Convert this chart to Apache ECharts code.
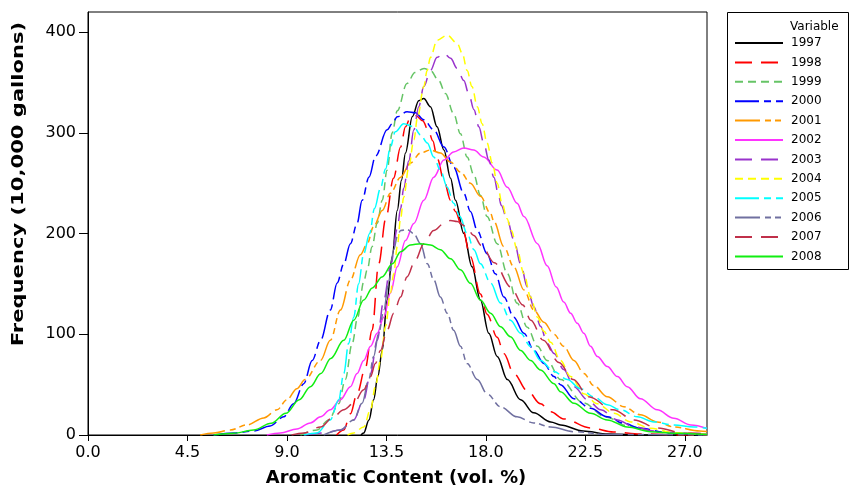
<!DOCTYPE html>
<html><head><meta charset="utf-8">
<script src="https://cdn.jsdelivr.net/npm/echarts@6/dist/echarts.min.js"></script>
<style>html,body{margin:0;padding:0;background:#fff}#c{width:851px;height:486px}</style>
</head><body><div id="c"></div>
<script>
const years = ['1997','1998','1999','2000','2001','2002','2003','2004','2005','2006','2007','2008'];
const xTicks = [0, 4.5, 9, 13.5, 18, 22.5, 27];
const yTicks = [0, 100, 200, 300, 400];

const x1997 = [12.35,12.47,12.71,12.92,13.11,13.31,13.53,13.76,13.99,14.18,14.36,14.67,14.96,15.19,15.49,15.79,16.1,16.4,16.62,17.0,17.37,17.75,18.13,18.51,18.97,19.57,20.16,20.93,21.38,22.4,23.51,25.44,28];
const y1997 = [0,2,15,35,58,84,134,177,223,253,280,316,332,334,326,306,283,255,233,200,167,134,101,78,55,35,22,13,10,4,1,0,0];

const x1998 = [11.24,11.57,11.87,12.17,12.55,12.85,13.15,13.47,13.82,14.14,14.36,14.58,14.84,15.14,15.4,15.6,15.79,16.11,16.4,16.62,16.93,17.3,17.75,18.05,18.51,18.81,19.26,19.87,20.47,20.93,21.52,22.73,23.77,24.98,27.06,28];
const y1998 = [0,5,21,41,67,104,170,215,255,286,306,315,317,312,302,292,275,252,233,222,206,177,140,120,97,81,61,44,31,23,16,7,3,1,0,0];

const x1999 = [9.61,10.36,10.89,11.34,11.64,11.95,12.2,12.47,12.63,12.85,13.08,13.31,13.53,13.76,13.99,14.43,14.79,15.2,15.49,15.86,16.17,16.54,16.85,17.15,17.46,17.75,18.05,18.51,18.97,19.41,19.87,20.33,20.77,21.38,22.4,23.41,24.43,25.44,26.45,28];
const y1999 = [0,5,15,31,55,91,117,152,164,187,210,233,263,300,322,349,360,364,362,352,339,319,299,276,258,238,217,190,160,131,107,88,74,55,32,18,9,4,1.5,0];

const x2000 = [5.68,6.59,7.49,8.24,8.85,9.3,9.76,10.14,10.52,10.96,11.27,11.57,11.87,12.17,12.4,12.71,13.01,13.53,13.76,13.99,14.43,14.81,15.19,15.64,16.1,16.54,17.0,17.3,17.61,18.05,18.43,18.81,19.26,19.72,20.17,20.62,21.08,21.37,21.98,22.73,23.49,24.24,24.99,26.21,27.67,28];
const y2000 = [0,2,4,9,18,31,51,74,94,124,151,170,190,210,233,256,277,303,309,316,321,320,313,303,286,266,240,222,203,180,160,137,117,101,84,71,58,50,36,26.5,18,11.6,6.6,2.3,0.5,0.4];

const x2001 = [5.08,5.68,6.44,7.19,7.95,8.55,9.0,9.45,9.82,10.52,10.96,11.42,11.87,12.32,12.63,12.92,13.31,13.68,14.14,14.58,15.04,15.49,15.94,16.4,16.85,17.3,17.75,18.21,18.36,18.81,19.26,19.72,20.17,20.62,21.08,21.52,21.98,22.43,22.88,23.49,24.24,24.99,25.75,26.5,27.67,28];
const y2001 = [0,2,5,10,17,25,35,46,55,74,94,124,154,179,190,207,223,240,256,270,280,283,280,271,261,250,237,220,212,187,167,144,124,112,100,88,74,61,49,38,28,20,13,8,4,3.5];

const x2002 = [8.09,8.7,9.45,10.06,10.52,10.96,11.42,11.87,12.17,12.47,12.78,13.08,13.38,13.68,13.99,14.36,14.74,15.19,15.64,16.1,16.54,17.0,17.45,17.9,18.51,18.97,19.41,19.72,20.33,20.77,21.18,21.52,21.83,22.13,22.43,22.73,23.04,23.49,23.95,24.39,24.99,25.75,26.5,27.27,28];
const y2002 = [0,2,6,12,18,25,35,48,61,74,88,101,117,141,167,193,210,233,256,273,281,285,283,276,263,246,230,217,190,168,147,132,121,111,101,88,78,68,58,48,36,25,16.6,10,6.6];

const x2003 = [9.8,10.66,11.42,12.02,12.47,12.78,13.08,13.38,13.68,13.99,14.14,14.28,14.51,14.74,14.96,15.19,15.49,15.79,16.1,16.4,16.7,17.0,17.22,17.46,17.68,17.9,18.13,18.36,18.58,18.69,18.97,19.26,19.57,19.87,20.17,20.47,20.77,21.08,21.52,21.98,22.59,23.19,23.95,24.7,25.6,26.81,28];
const y2003 = [0,2,5,15,35,61,94,134,167,205,225,245,272,303,326,346,362,375,379,374,364,352,339,323,306,290,273,256,237,228,213,194,170,147,127,108,91,81,65,48,35,25,15,8,4,2,1];

const x2004 = [11.74,12.02,12.47,12.78,13.0,13.23,13.46,13.68,13.83,13.99,14.14,14.28,14.51,14.74,14.91,15.19,15.34,15.49,15.79,16.25,16.7,16.93,17.15,17.37,17.61,17.83,18.05,18.29,18.51,18.73,18.95,19.15,19.41,19.72,20.02,20.33,20.62,20.93,21.37,21.83,22.43,23.04,23.79,24.55,25.45,26.51,28];
const y2004 = [0,2,8,25,48,74,108,141,160,187,215,236,266,293,316,346,362,375,392,397,389,379,362,346,326,309,290,270,250,230,215,203,184,160,137,117,103,92,74,58,41,31,21.5,13,6.6,2.3,0.5];

const x2005 = [9.76,10.36,10.96,11.34,11.57,11.79,12.02,12.24,12.47,12.74,12.96,13.23,13.46,13.68,13.9,14.28,14.74,15.04,15.35,15.64,15.94,16.25,16.54,16.82,17.15,17.46,17.75,18.21,18.66,19.11,19.57,20.02,20.47,21.08,21.68,22.28,22.88,23.49,24.09,24.85,25.6,26.5,27.41,28];
const y2005 = [0,2,15,35,61,91,117,150,180,200,225,245,264,286,301,309,306,298,290,276,263,246,230,217,200,184,170,151,131,114,101,88,74,63,55,46,38,30,25,18,13,10,8,6.6];

const x2006 = [10.66,11.42,12.02,12.4,12.7,12.92,13.15,13.38,13.6,13.83,13.99,14.14,14.44,14.74,15.04,15.35,15.64,15.94,16.25,16.54,16.85,17.15,17.61,18.05,18.66,19.41,20.16,20.93,21.98,23.49,28];
const y2006 = [0,5,15,31.5,55,78,101,124,151,184,197,203,204,200,190,170,154,137,121,104,88,71,55,41,28,18,12,8,3.3,0.5,0];

const x2007 = [9.21,9.76,10.52,11.1,11.57,12.02,12.47,12.78,13.0,13.23,13.53,13.83,14.14,14.43,14.81,15.19,15.64,16.1,16.4,16.7,17.1,17.45,17.8,18.38,19.12,19.67,20.03,20.6,21.3,21.95,22.65,23.75,24.7,25.75,26.96,28];
const y2007 = [0,2,8,18,25,31.5,45,58,71,84,104,121,137,157,174,190,203,210,213,212,207,198,188,171,147,129,114,94,72,55,38,25,15,7,2,1];

const x2008 = [5.68,6.59,7.49,8.29,8.95,9.56,10.06,10.53,10.98,11.57,12.02,12.47,12.86,13.3,13.77,14.14,14.58,15.04,15.49,15.94,16.4,16.85,17.3,17.75,18.21,18.66,19.11,19.57,20.02,20.47,21.08,21.37,21.98,22.73,23.49,24.39,25.45,26.5,28];
const y2008 = [0,1.7,5,11.6,21.5,35,48,61,76,94,114,134,146,157,170,182,188.6,190,188.6,184,175,164,150.6,134,121,107.5,97.6,84,74,64.5,51,43,31.5,21.5,15,8,3.3,1.7,0.5];

const xs = [x1997,x1998,x1999,x2000,x2001,x2002,x2003,x2004,x2005,x2006,x2007,x2008];
const ys = [y1997,y1998,y1999,y2000,y2001,y2002,y2003,y2004,y2005,y2006,y2007,y2008];

const colors = ['#000000','#ff0000','#66c466','#0000ff','#ff9900','#ff33ff','#9933cc','#ffff00','#00ffff','#7070a0','#c0304a','#11ee11'];
const dashes = ['solid',[17,9],[8,5],[24,5,7,5],[25,5,6,4,6,4],'solid',[17,9],[8,5],[24,5,7,5],[25,5,6,4,6,4],[17,9],'solid'];

const FONT = '"DejaVu Sans", Verdana, sans-serif';

const series = years.map((name, i) => ({
  name: name,
  type: 'line',
  data: xs[i].map((x, j) => [x, ys[i][j]]),
  symbol: 'none',
  smooth: 0.35,
  smoothMonotone: 'x',
  lineStyle: { color: colors[i], width: 1.5, type: dashes[i] },
  itemStyle: { color: colors[i] },
  z: 2
}));

const chart = echarts.init(document.getElementById('c'), null, { renderer: 'canvas' });
chart.setOption({
  animation: false,
  backgroundColor: '#ffffff',
  grid: { left: 88, right: 144, top: 12, bottom: 51, show: true, borderColor: '#000', borderWidth: 1, backgroundColor: 'transparent' },
  xAxis: {
    type: 'value', min: 0, max: 28, interval: 4.5,
    axisLine: { show: true, lineStyle: { color: '#000', width: 1 } },
    axisTick: { show: true, inside: false, length: 6, lineStyle: { color: '#000' } },
    splitLine: { show: false },
    axisLabel: {
      color: '#000', fontSize: 16, fontFamily: FONT, margin: 10, showMaxLabel: false,
      formatter: v => (xTicks.indexOf(v) >= 0 ? v.toFixed(1) : '')
    }
  },
  yAxis: {
    type: 'value', min: 0, max: 420, interval: 100,
    axisLine: { show: true, lineStyle: { color: '#000', width: 1 } },
    axisTick: { show: true, inside: false, length: 9, lineStyle: { color: '#000' } },
    splitLine: { show: false },
    axisLabel: {
      color: '#000', fontSize: 16, fontFamily: FONT, margin: 12, showMaxLabel: false,
      formatter: v => (yTicks.indexOf(v) >= 0 ? String(v) : '')
    }
  },
  legend: {
    data: years,
    orient: 'vertical',
    left: 734, top: 36,
    padding: 0,
    itemWidth: 48, itemHeight: 14, itemGap: 5.4,
    itemStyle: { color: 'transparent', borderColor: 'transparent', borderWidth: 0, opacity: 0 },
    textStyle: { color: '#000', fontSize: 12, fontFamily: FONT, padding: [0, 0, 0, 3], lineHeight: 14 },
    selectedMode: false
  },
  graphic: [
    { type: 'rect', shape: { x: 727.5, y: 12.5, width: 121, height: 257 }, style: { fill: 'none', stroke: '#000', lineWidth: 1 }, z: 10 },
    { type: 'text', x: 790, y: 27, style: { text: 'Variable', font: '12px ' + FONT, fill: '#000', align: 'left', verticalAlign: 'middle' }, z: 10 },
    { type: 'text', x: 396, y: 479, scaleX: 1.05, style: { text: 'Aromatic Content (vol. %)', font: 'bold 17px ' + FONT, fill: '#000', align: 'center', verticalAlign: 'middle' }, z: 10 },
    { type: 'text', x: 18.5, y: 184, rotation: Math.PI / 2, scaleX: 1.36, style: { text: 'Frequency (10,000 gallons)', font: 'bold 15.5px ' + FONT, fill: '#000', align: 'center', verticalAlign: 'middle' }, z: 10 }
  ],
  series: series
});
</script>
</body></html>
